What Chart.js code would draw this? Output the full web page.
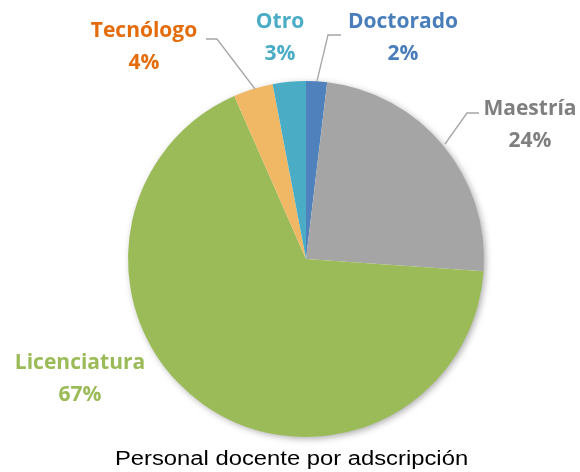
<!DOCTYPE html>
<html>
<head>
<meta charset="utf-8">
<script src="https://cdn.jsdelivr.net/npm/chart.js@4"></script>
<style>
  html, body { margin: 0; padding: 0; background: #fff; }
  #wrap { width: 580px; height: 472px; }
</style>
</head>
<body>
<div id="wrap"><canvas id="grafico"></canvas></div>
<script>
const categorias = ['Doctorado', 'Maestría', 'Licenciatura', 'Tecnólogo', 'Otro'];
const porcentajes = [1.9, 24.2, 67.3, 3.6, 3.0];
const coloresSector = ['#4F81BD', '#A5A5A5', '#9BBB59', '#F0B764', '#4BACC6'];
const coloresTexto = ['#4A7EBB', '#7F7F7F', '#9BBB59', '#E46C0A', '#4BACC6'];
const titulo = 'Personal docente por adscripción';

// donde va cada etiqueta (centro del texto) y su linea guia
const posEtiquetas = [
  { x: 403, y: 22, guia: [[317, 81], [328, 35], [341, 35]] },
  { x: 530, y: 109, guia: [[445, 144], [467, 113], [479, 113]] },
  { x: 80, y: 363, guia: null },
  { x: 144, y: 31, guia: [[206, 39], [217, 39], [255, 89]] },
  { x: 280, y: 22, guia: null },
];

const sombraPastel = {
  id: 'sombraPastel',
  beforeDatasetsDraw(chart) {
    const arco = chart.getDatasetMeta(0).data[0];
    if (!arco) return;
    const c = chart.ctx;
    c.save();
    c.shadowColor = 'rgba(0,0,0,0.35)';
    c.shadowBlur = 7;
    c.shadowOffsetX = 2;
    c.shadowOffsetY = 2;
    c.beginPath();
    c.arc(arco.x, arco.y, arco.outerRadius - 0.5, 0, Math.PI * 2);
    c.fillStyle = '#fff';
    c.fill();
    c.restore();
  }
};

const etiquetas = {
  id: 'etiquetas',
  afterDatasetsDraw(chart) {
    const c = chart.ctx;
    const total = porcentajes.reduce((a, b) => a + b, 0);
    c.save();
    posEtiquetas.forEach((p, i) => {
      if (p.guia) {
        c.beginPath();
        c.moveTo(p.guia[0][0], p.guia[0][1]);
        for (let k = 1; k < p.guia.length; k++) c.lineTo(p.guia[k][0], p.guia[k][1]);
        c.strokeStyle = '#A6A6A6';
        c.lineWidth = 1.3;
        c.stroke();
      }
      c.fillStyle = coloresTexto[i];
      c.font = 'bold 21px "Open Sans"';
      c.textAlign = 'center';
      c.textBaseline = 'middle';
      c.fillText(categorias[i], p.x, p.y);
      c.fillText(Math.round(porcentajes[i] / total * 100) + '%', p.x, p.y + 32.5);
    });

    // titulo abajo, un poco mas ancho que Arial normal
    c.font = '20px "Liberation Sans"';
    c.fillStyle = '#000';
    c.textAlign = 'center';
    c.textBaseline = 'alphabetic';
    c.translate(291.5, 465);
    c.scale(1.19, 1);
    c.fillText(titulo, 0, 0);
    c.restore();
  }
};

new Chart(document.getElementById('grafico').getContext('2d'), {
  type: 'pie',
  data: {
    labels: categorias,
    datasets: [{
      data: porcentajes,
      backgroundColor: coloresSector,
      borderWidth: 0,
      hoverOffset: 0,
    }],
  },
  options: {
    responsive: true,
    maintainAspectRatio: false,
    animation: false,
    events: [],
    layout: { padding: { top: 81, left: 128, right: 96, bottom: 35 } },
    plugins: {
      legend: { display: false },
      tooltip: { enabled: false },
      title: { display: false },
    },
  },
  plugins: [sombraPastel, etiquetas],
});
</script>
</body>
</html>
